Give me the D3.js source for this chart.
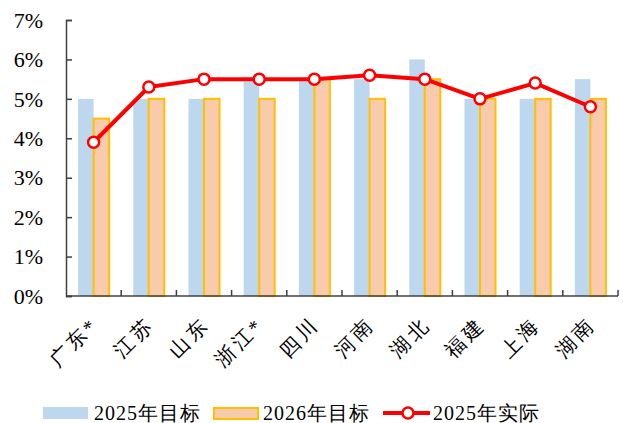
<!DOCTYPE html>
<html>
<head>
<meta charset="utf-8">
<script src="https://cdn.jsdelivr.net/npm/d3@7"></script>
</head>
<body style="margin:0;background:#fff">
<svg class="chart"></svg>
<script>
var provinces = ["广东*", "江苏", "山东", "浙江*", "四川", "河南", "湖北", "福建", "上海", "湖南"];
var target2025 = [0.05, 0.05, 0.05, 0.055, 0.055, 0.055, 0.06, 0.05, 0.05, 0.055];
var target2026 = [0.045, 0.05, 0.05, 0.05, 0.055, 0.05, 0.055, 0.05, 0.05, 0.05];
var actual2025 = [0.039, 0.053, 0.055, 0.055, 0.055, 0.056, 0.055, 0.05, 0.054, 0.048];
var yTicks = [0, 0.01, 0.02, 0.03, 0.04, 0.05, 0.06, 0.07];
var seriesNames = ["2025年目标", "2026年目标", "2025年实际"];

var width = 623, height = 423;
var plotLeft = 66, plotRight = 618, plotTop = 20, plotBottom = 296;
var font = "'Liberation Serif'";

var svg = d3.select(".chart").attr("width", width).attr("height", height);

var x = d3.scaleBand().domain(provinces).range([plotLeft, plotRight]).padding(0);
var x1 = d3.scaleBand().domain([0, 1]).range([0, x.bandwidth()]).paddingInner(0).paddingOuter(0.78);
var y = d3.scaleLinear().domain([0, 0.07]).range([plotBottom, plotTop]);

// bars
var rows = provinces.map(function(p, i) { return {p: p, a: target2025[i], b: target2026[i], c: actual2025[i]}; });

svg.append("g").selectAll("rect")
    .data(rows).enter().append("rect")
    .attr("x", function(d) { return x(d.p) + x1(0); })
    .attr("y", function(d) { return y(d.a); })
    .attr("width", x1.bandwidth())
    .attr("height", function(d) { return plotBottom - y(d.a); })
    .attr("fill", "#BDD7EE");

svg.append("g").selectAll("rect")
    .data(rows).enter().append("rect")
    .attr("x", function(d) { return x(d.p) + x1(1); })
    .attr("y", function(d) { return y(d.b); })
    .attr("width", x1.bandwidth())
    .attr("height", function(d) { return plotBottom - y(d.b); })
    .attr("fill", "#F8CBAD")
    .attr("stroke", "#FFC000")
    .attr("stroke-width", 2);

// axes
var yAxis = svg.append("g")
    .attr("transform", "translate(" + plotLeft + ",0)")
    .call(d3.axisRight(y).tickValues(yTicks).tickSize(6).tickFormat(""));
yAxis.select(".domain").attr("stroke", "#404040").attr("stroke-width", 1.5);
yAxis.selectAll(".tick line").attr("stroke", "#404040").attr("stroke-width", 1.5);

svg.append("g").selectAll("text")
    .data(yTicks).enter().append("text")
    .attr("x", plotLeft - 23)
    .attr("y", function(d) { return y(d); })
    .attr("dy", "0.35em")
    .attr("text-anchor", "end")
    .style("font-family", font)
    .style("font-size", "22px")
    .text(d3.format(".0%"));

var xAxis = svg.append("g")
    .attr("transform", "translate(0," + plotBottom + ")");
xAxis.append("line")
    .attr("x1", plotLeft).attr("x2", plotRight)
    .attr("stroke", "#404040").attr("stroke-width", 1.5);
xAxis.selectAll(".tk")
    .data(provinces.slice(1).concat(["end"])).enter().append("line")
    .attr("class", "tk")
    .attr("x1", function(d) { return d == "end" ? plotRight : x(d); })
    .attr("x2", function(d) { return d == "end" ? plotRight : x(d); })
    .attr("y1", 0).attr("y2", -6)
    .attr("stroke", "#404040").attr("stroke-width", 1.5);

svg.append("g").selectAll("text")
    .data(provinces).enter().append("text")
    .attr("transform", function(d) {
        return "translate(" + (x(d) + x.bandwidth() / 2 + 6) + "," + (plotBottom + 30) + ") rotate(-45)";
    })
    .attr("text-anchor", "end")
    .style("font-family", font)
    .style("font-size", "20px")
    .style("letter-spacing", "3px")
    .text(function(d) { return d; });

// line
var line = d3.line()
    .x(function(d) { return x(d.p) + x.bandwidth() / 2; })
    .y(function(d) { return y(d.c); });

svg.append("path")
    .datum(rows)
    .attr("d", line)
    .attr("fill", "none")
    .attr("stroke", "#FF0000")
    .attr("stroke-width", 4)
    .attr("stroke-linejoin", "round");

svg.append("g").selectAll("circle")
    .data(rows).enter().append("circle")
    .attr("cx", function(d) { return x(d.p) + x.bandwidth() / 2; })
    .attr("cy", function(d) { return y(d.c); })
    .attr("r", 5.5)
    .attr("fill", "#fff")
    .attr("stroke", "#FF0000")
    .attr("stroke-width", 2.5);

// legend
var ly = 413;
var legend = svg.append("g");
legend.append("rect").attr("x", 43).attr("y", ly - 6).attr("width", 45).attr("height", 12).attr("fill", "#BDD7EE");
legend.append("rect").attr("x", 214).attr("y", ly - 5).attr("width", 44).attr("height", 11)
    .attr("fill", "#F8CBAD").attr("stroke", "#FFC000").attr("stroke-width", 2);
legend.append("line").attr("x1", 383).attr("x2", 430).attr("y1", ly).attr("y2", ly)
    .attr("stroke", "#FF0000").attr("stroke-width", 4);
legend.append("circle").attr("cx", 408).attr("cy", ly).attr("r", 5.5)
    .attr("fill", "#fff").attr("stroke", "#FF0000").attr("stroke-width", 2.5);
legend.selectAll("text")
    .data(seriesNames).enter().append("text")
    .attr("x", function(d, i) { return [94, 263, 433][i]; })
    .attr("y", ly)
    .attr("dy", "0.35em")
    .style("font-family", font)
    .style("font-size", "20px")
    .style("letter-spacing", "1px")
    .text(function(d) { return d; });
</script>
</body>
</html>
